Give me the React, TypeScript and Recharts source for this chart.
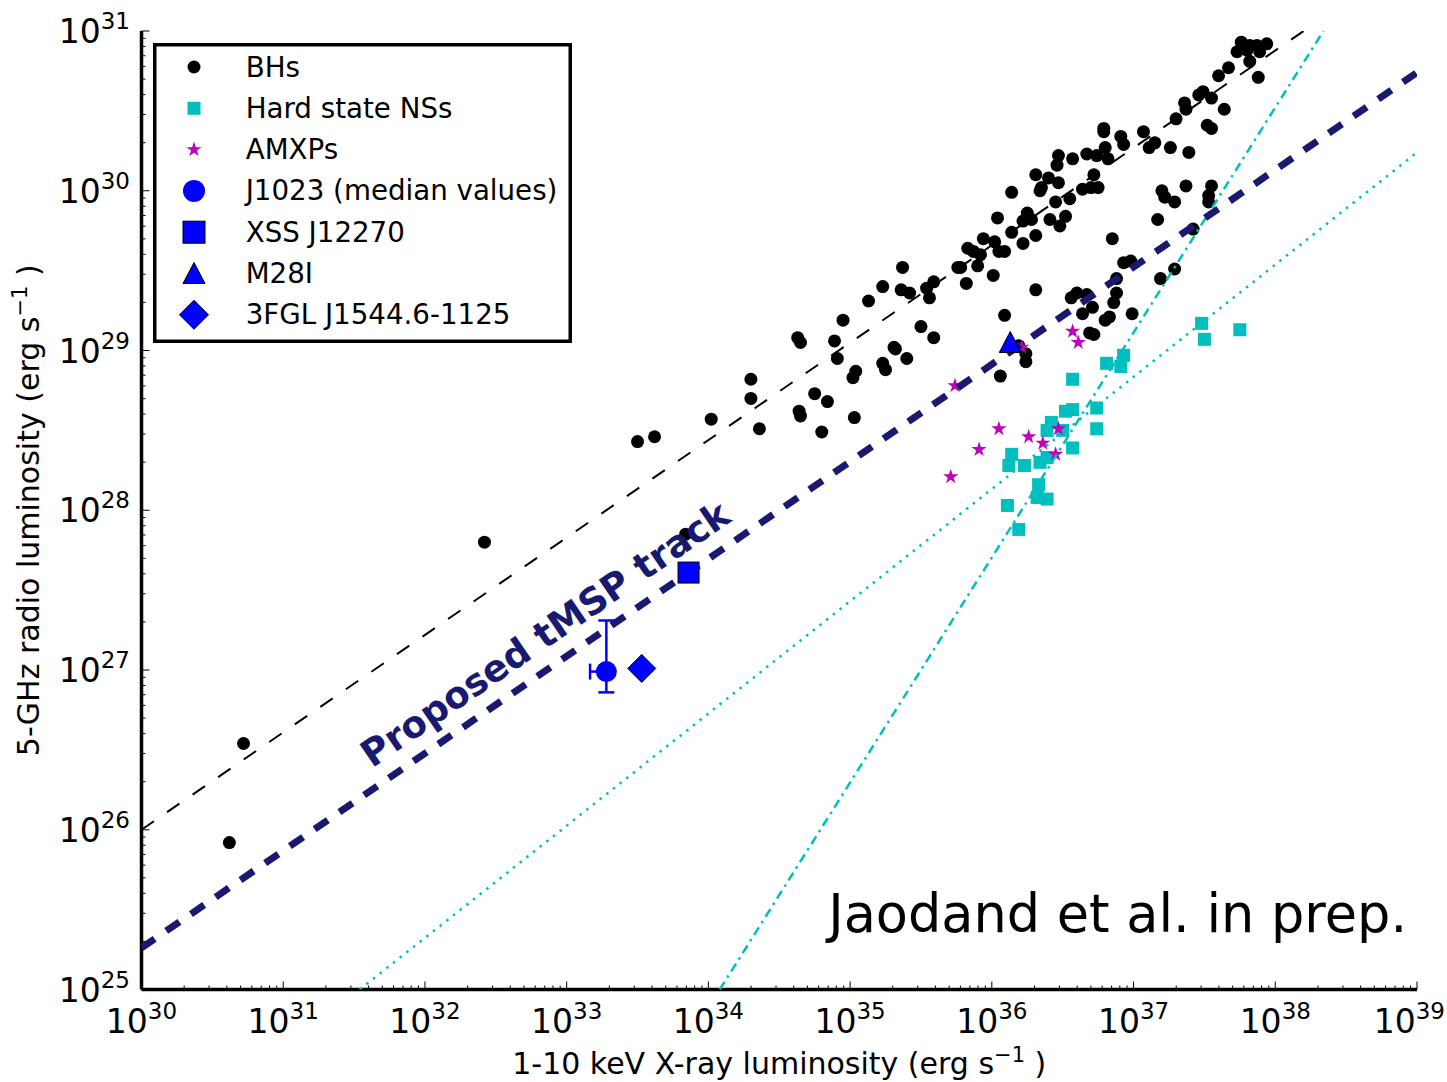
import React from 'react';
import { ScatterChart, Scatter, XAxis, YAxis, ErrorBar, Legend, ReferenceDot } from 'recharts';

// [log10 Lx, log10 Lr] pairs
const bhPoints: [number, number][] = [
  [30.62, 25.92], [30.72, 26.54], [32.42, 27.8], [33.5, 28.43], [33.62, 28.46], [33.84, 27.85],
  [34.02, 28.57], [34.3, 28.82], [34.3, 28.7], [34.36, 28.51], [34.63, 29.08], [34.65, 29.05],
  [34.89, 29.06], [34.91, 28.95], [34.95, 29.19], [34.75, 28.73], [34.84, 28.68], [34.64, 28.62],
  [34.65, 28.59], [34.8, 28.49], [35.03, 28.58], [35.04, 28.87], [35.02, 28.83], [35.23, 28.92],
  [35.25, 28.88], [35.32, 29.01], [35.4, 28.95], [35.13, 29.31], [35.23, 29.4], [35.37, 29.52],
  [35.36, 29.38], [35.42, 29.36], [35.5, 29.15], [35.59, 29.08], [35.54, 29.39], [35.56, 29.33],
  [35.59, 29.43], [35.76, 29.52], [35.78, 29.52], [35.82, 29.42], [35.83, 29.64], [35.87, 29.62],
  [35.9, 29.53], [35.92, 29.6], [35.94, 29.7], [36.01, 29.47], [36.02, 29.68], [36.05, 29.62],
  [36.09, 29.62], [36.14, 29.74], [36.04, 29.83], [36.22, 29.67], [36.14, 29.99], [36.25, 29.86],
  [36.28, 29.82], [36.31, 29.72], [36.34, 30.0], [36.41, 29.82], [36.45, 29.93], [36.31, 29.38],
  [36.09, 29.22], [36.06, 28.84], [36.24, 28.93], [36.24, 28.98], [36.19, 29.03], [35.31, 29.02],
  [36.31, 30.1], [36.4, 30.08], [36.47, 30.05], [36.35, 30.02], [36.55, 29.95], [36.52, 29.84],
  [36.48, 29.78], [36.22, 29.81], [36.47, 30.22], [36.46, 30.16], [36.57, 30.2], [36.67, 30.23],
  [36.74, 30.22], [36.72, 30.1], [36.64, 30.01], [36.7, 30.02], [36.75, 30.02], [36.79, 30.39],
  [36.79, 30.37], [36.8, 30.27], [36.82, 30.2], [36.91, 30.34], [36.93, 30.29], [37.07, 30.37],
  [37.11, 30.27], [37.15, 30.3], [37.26, 30.27], [37.39, 30.24], [37.3, 30.45], [37.36, 30.55],
  [37.37, 30.51], [37.46, 30.6], [37.49, 30.62], [37.55, 30.58], [37.64, 30.51], [37.52, 30.41],
  [37.55, 30.39], [37.6, 30.72], [37.67, 30.77], [37.73, 30.87], [37.76, 30.93], [37.8, 30.88],
  [37.82, 30.91], [37.87, 30.91], [37.89, 30.87], [37.94, 30.92], [37.82, 30.81], [37.88, 30.71],
  [37.2, 30.0], [37.22, 29.96], [37.29, 29.93], [37.37, 30.03], [37.55, 30.03], [37.53, 29.97],
  [37.53, 29.93], [37.17, 29.82], [37.42, 29.76], [36.85, 29.7], [36.93, 29.55], [36.98, 29.56],
  [36.88, 29.45], [37.29, 29.51], [37.19, 29.45], [36.88, 29.36], [36.86, 29.3], [36.56, 29.33],
  [36.6, 29.36], [36.67, 29.35], [36.64, 29.23], [36.71, 29.27], [36.99, 29.23], [36.8, 29.19],
  [36.83, 29.21], [36.69, 29.11], [36.72, 29.1],
];

const nsPoints: [number, number][] = [
  [37.48, 29.17], [37.5, 29.07], [37.75, 29.13], [36.93, 28.97], [36.81, 28.92], [36.91, 28.9],
  [36.57, 28.82], [36.52, 28.62], [36.57, 28.63], [36.74, 28.64], [36.74, 28.51], [36.42, 28.55],
  [36.39, 28.5], [36.5, 28.5], [36.57, 28.39], [36.14, 28.35], [36.12, 28.28], [36.23, 28.28],
  [36.34, 28.3], [36.39, 28.33], [36.33, 28.16], [36.32, 28.08], [36.39, 28.07], [36.11, 28.03],
  [36.19, 27.88],
];

const amxpPoints: [number, number][] = [
  [36.57, 29.12], [36.61, 29.05], [35.74, 28.78], [36.05, 28.51], [36.26, 28.46], [35.91, 28.38],
  [36.47, 28.51], [36.36, 28.42], [36.45, 28.35], [35.71, 28.21], [36.21, 29.02],
];

const j1023Point: [number, number] = [33.28, 26.99];
const j1023XRange = [33.165, 33.31];
const j1023YRange = [26.86, 27.31];
const xssPoint: [number, number][] = [[33.86, 27.61]];
const m28iPoint: [number, number][] = [[36.13, 29.05]];
const fglPoint: [number, number][] = [[33.53, 27.01]];

// correlation tracks, end points on the frame
const bhTrack: [number, number][] = [[30, 26.0], [38.2, 31]];
const tmspTrack: [number, number][] = [[30, 25.26], [39, 30.74]];
const nsTrackShallow: [number, number][] = [[31.54, 25], [39, 30.24]];
const nsTrackSteep: [number, number][] = [[34.08, 25], [38.34, 31]];

const tmspLabelAt: [number, number] = [32.9, 27.16];
const creditAt: [number, number] = [38.93, 25.36];

const xDecades = [30, 31, 32, 33, 34, 35, 36, 37, 38, 39];
const yDecades = [25, 26, 27, 28, 29, 30, 31];
const minorSteps = [2, 3, 4, 5, 6, 7, 8, 9];

const legendLabels = [
  'BHs',
  'Hard state NSs',
  'AMXPs',
  'J1023 (median values)',
  'XSS J12270',
  'M28I',
  '3FGL J1544.6-1125',
];

const FONT = '"DejaVu Sans", sans-serif';
const CYAN = '#00BFBF';
const MAGENTA = '#BF00BF';
const BLUE = '#0000FF';
const NAVY = '#191970';

// layout
const W = 1447;
const H = 1082;
const MARGIN = { top: 31, right: 30, bottom: 0, left: 0 };
const Y_AXIS_W = 141.5;
const X_AXIS_H = 92.5;
const PLOT = {
  left: MARGIN.left + Y_AXIS_W,
  right: W - MARGIN.right,
  top: MARGIN.top,
  bottom: H - MARGIN.bottom - X_AXIS_H,
};

const lin = (l: number) => Math.pow(10, l);
const toPts = (arr: [number, number][]) => arr.map(([a, b]) => ({ x: lin(a), y: lin(b) }));

const logTicks = (decades: number[]) => {
  const t: number[] = [];
  decades.forEach((d, i) => {
    t.push(Number(`1e${d}`));
    if (i < decades.length - 1) minorSteps.forEach((k) => t.push(Number(`${k}e${d}`)));
  });
  return t;
};
const xTicks = logTicks(xDecades);
const yTicks = logTicks(yDecades);

const j1023Data = [
  {
    x: lin(j1023Point[0]),
    y: lin(j1023Point[1]),
    ex: [lin(j1023Point[0]) - lin(j1023XRange[0]), lin(j1023XRange[1]) - lin(j1023Point[0])],
    ey: [lin(j1023Point[1]) - lin(j1023YRange[0]), lin(j1023YRange[1]) - lin(j1023Point[1])],
  },
];

const starPoints = (cx: number, cy: number, R: number) => {
  const r = R * 0.382;
  const pts: string[] = [];
  for (let i = 0; i < 10; i++) {
    const rad = i % 2 === 0 ? R : r;
    const a = -Math.PI / 2 + (i * Math.PI) / 5;
    pts.push(`${cx + rad * Math.cos(a)},${cy + rad * Math.sin(a)}`);
  }
  return pts.join(' ');
};

const BhDot = ({ cx, cy }: any) => <circle cx={cx} cy={cy} r={6.5} fill="#000" />;
const NsSquare = ({ cx, cy }: any) => <rect x={cx - 6.5} y={cy - 6.5} width={13} height={13} fill={CYAN} />;
const AmxpStar = ({ cx, cy }: any) => <polygon points={starPoints(cx, cy, 8)} fill={MAGENTA} />;
const J1023Dot = ({ cx, cy }: any) => <circle cx={cx} cy={cy} r={10.5} fill={BLUE} />;
const XssSquare = ({ cx, cy }: any) => (
  <rect x={cx - 10.5} y={cy - 10.5} width={21} height={21} fill={BLUE} stroke="#000" strokeWidth={1} />
);
const M28Triangle = ({ cx, cy }: any) => (
  <polygon points={`${cx},${cy - 11} ${cx - 11},${cy + 10} ${cx + 11},${cy + 10}`} fill={BLUE} stroke="#000" strokeWidth={1} />
);
const FglDiamond = ({ cx, cy }: any) => (
  <polygon points={`${cx},${cy - 14} ${cx + 14},${cy} ${cx},${cy + 14} ${cx - 14},${cy}`} fill={BLUE} stroke="#000" strokeWidth={1} />
);
const NoShape = () => <g />;

const isMajor = (v: number) => {
  const l = Math.log10(v);
  return Math.abs(l - Math.round(l)) < 1e-6;
};

// inward ticks on all four sides, labels only on bottom and left
function LogTick({ payload, side }: any) {
  const v = payload.value;
  const c = payload.coordinate;
  const major = isMajor(v);
  const len = major ? 8 : 4;
  const exp = Math.round(Math.log10(v));
  let line;
  let label = null;
  if (side === 'bottom') {
    line = <line x1={c} y1={PLOT.bottom} x2={c} y2={PLOT.bottom - len} />;
    if (major) {
      const last = c > W - 40;
      label = (
        <text x={last ? W - 2 : c} y={PLOT.bottom + 43.5} textAnchor={last ? 'end' : 'middle'} fontFamily={FONT} fontSize={33} fill="#000">
          <tspan>10</tspan>
          <tspan dy={-14} fontSize={23}>{exp}</tspan>
        </text>
      );
    }
  } else if (side === 'top') {
    line = <line x1={c} y1={PLOT.top} x2={c} y2={PLOT.top + len} />;
  } else if (side === 'left') {
    line = <line x1={PLOT.left} y1={c} x2={PLOT.left + len} y2={c} />;
    if (major) {
      label = (
        <text x={PLOT.left - 11.5} y={c + 12} textAnchor="end" fontFamily={FONT} fontSize={33} fill="#000">
          <tspan>10</tspan>
          <tspan dy={-14} fontSize={23}>{exp}</tspan>
        </text>
      );
    }
  } else {
    line = <line x1={PLOT.right} y1={c} x2={PLOT.right - len} y2={c} />;
  }
  return (
    <g>
      <g stroke="#000" strokeWidth={1}>{line}</g>
      {label}
    </g>
  );
}

const XTitle = () => (
  <text x={(PLOT.left + PLOT.right) / 2} y={PLOT.bottom + 84} textAnchor="middle" fontFamily={FONT} fontSize={30} fill="#000">
    <tspan>1-10 keV X-ray luminosity (erg s</tspan>
    <tspan dy={-12} fontSize={21}>−1</tspan>
    <tspan dy={12}> )</tspan>
  </text>
);

const YTitle = () => {
  const cx = 39;
  const cy = (PLOT.top + PLOT.bottom) / 2;
  return (
    <text x={cx} y={cy} transform={`rotate(-90 ${cx} ${cy})`} textAnchor="middle" fontFamily={FONT} fontSize={30} fill="#000">
      <tspan>5-GHz radio luminosity (erg s</tspan>
      <tspan dy={-12} fontSize={21}>−1</tspan>
      <tspan dy={12}> )</tspan>
    </text>
  );
};

const legendMarker = (i: number, cx: number, cy: number) => {
  switch (i) {
    case 0:
      return <BhDot cx={cx} cy={cy} />;
    case 1:
      return <NsSquare cx={cx} cy={cy} />;
    case 2:
      return <AmxpStar cx={cx} cy={cy} />;
    case 3:
      return <circle cx={cx} cy={cy} r={11} fill={BLUE} />;
    case 4:
      return <rect x={cx - 11} y={cy - 11} width={22} height={22} fill={BLUE} stroke="#000" strokeWidth={1} />;
    case 5:
      return <polygon points={`${cx},${cy - 11} ${cx - 11},${cy + 10} ${cx + 11},${cy + 10}`} fill={BLUE} stroke="#000" strokeWidth={1} />;
    default:
      return <polygon points={`${cx},${cy - 14.5} ${cx + 14.5},${cy} ${cx},${cy + 14.5} ${cx - 14.5},${cy}`} fill={BLUE} stroke="#000" strokeWidth={1} />;
  }
};

const LegendBox = () => (
  <svg width={419} height={300} style={{ display: 'block' }}>
    <rect x={1.75} y={1.75} width={415.5} height={296.5} fill="#fff" stroke="#000" strokeWidth={3.5} />
    {legendLabels.map((label, i) => {
      const cy = 24 + i * 41.3;
      return (
        <g key={label}>
          {legendMarker(i, 41, cy)}
          <text x={92.7} y={cy} dominantBaseline="central" fontFamily={FONT} fontSize={27.7} fill="#000">
            {label}
          </text>
        </g>
      );
    })}
  </svg>
);

const axisLine = { stroke: '#000', strokeWidth: 3.5 };

export default function App() {
  return (
    <div style={{ width: W, height: H, background: '#fff', position: 'relative' }}>
      <style>{'body{margin:0;background:#fff}'}</style>
      <ScatterChart width={W} height={H} margin={MARGIN}>
        <XAxis
          type="number"
          dataKey="x"
          scale="log"
          domain={[1e30, 1e39]}
          allowDataOverflow
          ticks={xTicks}
          interval={0}
          height={X_AXIS_H}
          axisLine={axisLine}
          tickLine={false}
          tickSize={0}
          tickMargin={0}
          tick={(p: any) => <LogTick {...p} side="bottom" />}
          label={() => <XTitle />}
        />
        <XAxis
          xAxisId="top"
          orientation="top"
          type="number"
          dataKey="x"
          scale="log"
          domain={[1e30, 1e39]}
          allowDataOverflow
          ticks={xTicks}
          interval={0}
          height={0}
          axisLine={axisLine}
          tickLine={false}
          tickSize={0}
          tickMargin={0}
          tick={(p: any) => <LogTick {...p} side="top" />}
        />
        <YAxis
          type="number"
          dataKey="y"
          scale="log"
          domain={[1e25, 1e31]}
          allowDataOverflow
          ticks={yTicks}
          interval={0}
          width={Y_AXIS_W}
          axisLine={axisLine}
          tickLine={false}
          tickSize={0}
          tickMargin={0}
          tick={(p: any) => <LogTick {...p} side="left" />}
          label={() => <YTitle />}
        />
        <YAxis
          yAxisId="right"
          orientation="right"
          type="number"
          dataKey="y"
          scale="log"
          domain={[1e25, 1e31]}
          allowDataOverflow
          ticks={yTicks}
          interval={0}
          width={0}
          axisLine={axisLine}
          tickLine={false}
          tickSize={0}
          tickMargin={0}
          tick={(p: any) => <LogTick {...p} side="right" />}
        />

        <Scatter name="BHs" data={toPts(bhPoints)} shape={BhDot} isAnimationActive={false} />
        <Scatter name="Hard state NSs" data={toPts(nsPoints)} shape={NsSquare} isAnimationActive={false} />
        <Scatter name="AMXPs" data={toPts(amxpPoints)} shape={AmxpStar} isAnimationActive={false} />

        <Scatter data={toPts(bhTrack)} shape={NoShape} line={{ stroke: '#000', strokeWidth: 2, strokeDasharray: '15 16' }} isAnimationActive={false} />
        <Scatter data={toPts(nsTrackSteep)} shape={NoShape} line={{ stroke: CYAN, strokeWidth: 2.5, strokeDasharray: '9 5 2.5 5' }} isAnimationActive={false} />
        <Scatter data={toPts(nsTrackShallow)} shape={NoShape} line={{ stroke: CYAN, strokeWidth: 2.5, strokeDasharray: '2.5 6' }} isAnimationActive={false} />
        <Scatter data={toPts(tmspTrack)} shape={NoShape} line={{ stroke: NAVY, strokeWidth: 7, strokeDasharray: '16 14' }} isAnimationActive={false} />

        <Scatter name="J1023 (median values)" data={j1023Data} shape={J1023Dot} isAnimationActive={false}>
          <ErrorBar dataKey="ey" direction="y" stroke={BLUE} strokeWidth={2.5} width={8} />
          <ErrorBar dataKey="ex" direction="x" stroke={BLUE} strokeWidth={2.5} width={8} />
        </Scatter>
        <Scatter name="XSS J12270" data={toPts(xssPoint)} shape={XssSquare} isAnimationActive={false} />
        <Scatter name="M28I" data={toPts(m28iPoint)} shape={M28Triangle} isAnimationActive={false} />
        <Scatter name="3FGL J1544.6-1125" data={toPts(fglPoint)} shape={FglDiamond} isAnimationActive={false} />

        <ReferenceDot
          x={lin(tmspLabelAt[0])}
          y={lin(tmspLabelAt[1])}
          r={0}
          shape={(p: any) => (
            <text
              x={p.cx}
              y={p.cy}
              textAnchor="middle"
              transform={`rotate(-34.5 ${p.cx} ${p.cy})`}
              fontFamily={FONT}
              fontWeight="bold"
              fontSize={37}
              fill={NAVY}
            >
              Proposed tMSP track
            </text>
          )}
        />
        <ReferenceDot
          x={lin(creditAt[0])}
          y={lin(creditAt[1])}
          r={0}
          shape={(p: any) => (
            <text x={p.cx} y={p.cy} textAnchor="end" fontFamily={FONT} fontSize={52.5} fill="#000">
              Jaodand et al. in prep.
            </text>
          )}
        />

        <Legend
          layout="horizontal"
          verticalAlign="middle"
          align="center"
          wrapperStyle={{ left: 153, top: 43, width: 419, height: 300, margin: 0, padding: 0 }}
          content={() => <LegendBox />}
        />
      </ScatterChart>
    </div>
  );
}
